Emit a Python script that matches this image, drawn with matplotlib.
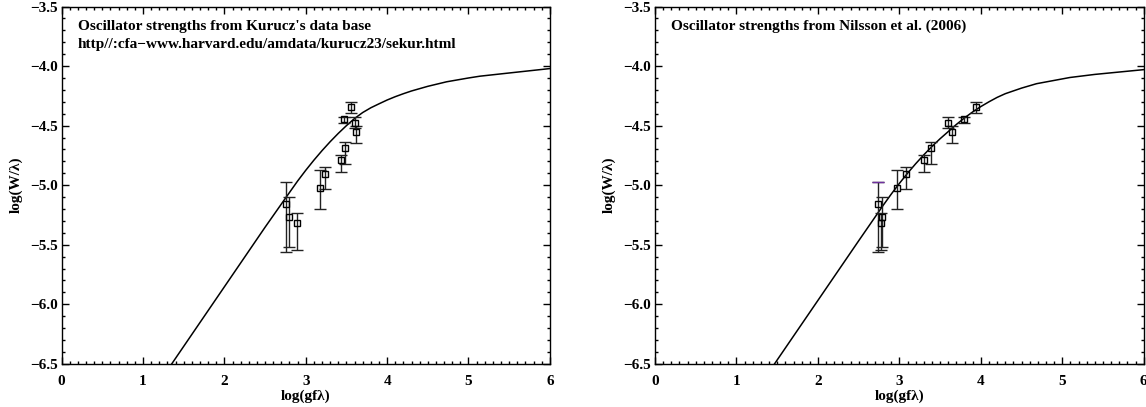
import matplotlib
matplotlib.use("Agg")
import matplotlib.pyplot as plt
from matplotlib.ticker import MultipleLocator, FuncFormatter

plt.rcParams['font.family'] = ['Liberation Serif', 'DejaVu Serif']
plt.rcParams['font.weight'] = 'bold'

# observed points (same W for both panels)
logW = [-5.158, -5.264, -5.318, -5.020, -4.906, -4.785, -4.691, -4.448, -4.343, -4.477, -4.550]
err_up = [0.188, 0.162, 0.088, 0.146, 0.060, 0.037, 0.055, 0.022, 0.038, 0.050, 0.046]
err_lo = [0.400, 0.255, 0.225, 0.178, 0.122, 0.104, 0.133, 0.034, 0.055, 0.047, 0.096]

x_kurucz = [2.76, 2.79, 2.89, 3.18, 3.24, 3.43, 3.48, 3.47, 3.56, 3.60, 3.62]
x_nilsson = [2.74, 2.785, 2.77, 2.97, 3.08, 3.30, 3.39, 3.795, 3.945, 3.595, 3.64]

# curves of growth
cog_left_x = [1.353, 2.0, 2.5, 2.76, 2.9, 3.0, 3.1, 3.2, 3.3, 3.4, 3.5, 3.6, 3.7, 3.8, 3.9,
              4.0, 4.1, 4.2, 4.3, 4.5, 4.731, 5.0, 5.14, 5.447, 6.0]
cog_left_y = [-6.50, -5.853, -5.353, -5.10, -4.965, -4.875, -4.79, -4.71, -4.635, -4.565, -4.50, -4.44,
              -4.39, -4.35, -4.317, -4.285, -4.257, -4.232, -4.209, -4.17, -4.132, -4.10, -4.085,
              -4.062, -4.021]
cog_right_x = [1.467, 2.0, 2.5, 2.8, 2.9, 3.0, 3.1, 3.2, 3.3, 3.4, 3.5, 3.6, 3.7, 3.8, 3.9,
               4.0, 4.1, 4.2, 4.3, 4.5, 4.684, 5.093, 5.4, 6.0]
cog_right_y = [-6.50, -5.967, -5.467, -5.17, -5.075, -4.985, -4.90, -4.82, -4.745, -4.675, -4.61,
               -4.55, -4.49, -4.435, -4.385, -4.34, -4.30, -4.263, -4.232, -4.185, -4.148, -4.096,
               -4.07, -4.03]

titles_left = ["Oscillator strengths from Kurucz's data base",
               "http//:cfa\u2212www.harvard.edu/amdata/kurucz23/sekur.html"]
titles_right = ["Oscillator strengths from Nilsson et al. (2006)"]

xlabel = "log(gf\u03bb)"
ylabel = "log(W/\u03bb)"

fig = plt.figure(figsize=(11.46, 4.07), dpi=100)
ax1 = fig.add_axes([0.0538, 0.106, 0.426, 0.878])
ax2 = fig.add_axes([0.5716, 0.106, 0.4264, 0.878])

yfmt = FuncFormatter(lambda v, p: ('%.1f' % v).replace('-', '\u2212'))
xfmt = FuncFormatter(lambda v, p: '%d' % round(v))

def style(ax):
    ax.set_xlim(0, 6)
    ax.set_ylim(-6.5, -3.5)
    ax.xaxis.set_major_locator(MultipleLocator(1))
    ax.xaxis.set_minor_locator(MultipleLocator(0.1))
    ax.yaxis.set_major_locator(MultipleLocator(0.5))
    ax.yaxis.set_minor_locator(MultipleLocator(0.1))
    ax.yaxis.set_major_formatter(yfmt)
    ax.xaxis.set_major_formatter(xfmt)
    ax.tick_params(which='both', direction='in', top=True, right=True,
                   labelsize=11, width=1.0)
    ax.tick_params(axis='x', which='major', pad=8)
    ax.tick_params(axis='y', which='major', pad=3)
    ax.tick_params(which='major', length=5)
    ax.tick_params(which='minor', length=2.5)
    for lab in ax.get_xticklabels() + ax.get_yticklabels():
        lab.set_fontweight('bold')
    for s in ax.spines.values():
        s.set_linewidth(1.0)
    ax.set_xlabel(xlabel, fontsize=11, fontweight='bold', labelpad=1)
    ax.set_ylabel(ylabel, fontsize=11, fontweight='bold', labelpad=5)

for ax, xs, cx, cy, titles in [(ax1, x_kurucz, cog_left_x, cog_left_y, titles_left),
                               (ax2, x_nilsson, cog_right_x, cog_right_y, titles_right)]:
    style(ax)
    ax.plot(cx, cy, color='black', lw=1.1)
    ax.errorbar(xs, logW, yerr=[err_lo, err_up], fmt='s', mfc='none', mec='black',
                ms=5, mew=1.0, ecolor='#222222', elinewidth=1.0, capsize=4, capthick=1.0)
    for i, t in enumerate(titles):
        ax.text(0.033, 0.945 - i * 0.05, t, transform=ax.transAxes, fontsize=11,
                fontweight='bold', va='center', ha='left')

# purple top cap on first Nilsson point
ax2.plot([x_nilsson[0]], [logW[0] + err_up[0]], marker='_', ms=8, mew=1.0, color='#7030a0')

fig.savefig('out.png', dpi=100)
